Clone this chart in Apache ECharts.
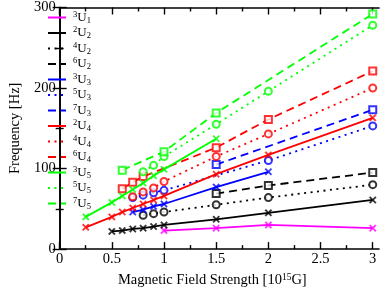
<!DOCTYPE html>
<html><head><meta charset="utf-8">
<script src="https://cdn.jsdelivr.net/npm/echarts@6/dist/echarts.min.js"></script>
<style>html,body{margin:0;padding:0;background:#fff}#c{width:382px;height:293px}</style>
</head><body><div id="c"></div>
<script>
// ---- data ----
const names = ['3U1','2U2','4U2','6U2','3U3','5U3','7U3','2U4','4U4','6U4','3U5','5U5','7U5'];
const supText = ['3','2','4','6','3','5','7','2','4','6','3','5','7'];
const subText = ['1','2','2','2','3','3','3','4','4','4','5','5','5'];

const x3U1 = [1, 1.5, 2, 3];
const y3U1 = [23, 26, 30, 26];
const x2U2 = [0.5, 0.6, 0.7, 0.8, 0.9, 1, 1.5, 2, 3];
const y2U2 = [22, 23, 25, 26, 28, 30, 37, 45, 61];
const x4U2 = [0.8, 0.9, 1, 1.5, 2, 3];
const y4U2 = [42, 44, 46, 55, 64, 80];
const x6U2 = [1.5, 2, 3];
const y6U2 = [69, 79, 95];
const x3U3 = [0.7, 0.8, 0.9, 1, 1.5, 2];
const y3U3 = [46, 49, 53, 56, 77, 96];
const x5U3 = [0.7, 0.8, 0.9, 1, 2, 3];
const y5U3 = [64, 67, 70, 73, 110, 153];
const x7U3 = [1.5, 3];
const y7U3 = [105, 173];
const x2U4 = [0.25, 0.5, 0.6, 0.7, 0.8, 0.9, 1, 1.5, 2, 3];
const y2U4 = [27, 40, 46, 51, 56, 61, 66, 93, 117, 163];
const x4U4 = [0.7, 0.8, 0.9, 1, 1.5, 2, 3];
const y4U4 = [65, 71, 76, 84, 115, 143, 200];
const x6U4 = [0.6, 0.7, 0.8, 1.5, 2, 3];
const y6U4 = [75, 83, 90, 126, 161, 221];
const x3U5 = [0.25, 0.5, 0.6, 0.7, 0.8, 0.9, 1, 1.5];
const y3U5 = [40, 58, 66, 74, 82, 91, 99, 137];
const x5U5 = [0.8, 0.9, 1, 1.5, 2, 3];
const y5U5 = [96, 104, 115, 155, 196, 278];
const x7U5 = [0.6, 1, 1.5, 3];
const y7U5 = [98, 121, 169, 292];

const xMajorTicks = [0, 0.5, 1, 1.5, 2, 2.5, 3];
const xMinorTicks = [0.25, 0.75, 1.25, 1.75, 2.25, 2.75];

// ---- styles ----
const xs = [x3U1,x2U2,x4U2,x6U2,x3U3,x5U3,x7U3,x2U4,x4U4,x6U4,x3U5,x5U5,x7U5];
const ys = [y3U1,y2U2,y4U2,y6U2,y3U3,y5U3,y7U3,y2U4,y4U4,y6U4,y3U5,y5U5,y7U5];
const colors = ['#ff00ff','#000000','#000000','#000000','#0000ff','#0000ff','#0000ff','#ff0000','#ff0000','#ff0000','#00ff00','#00ff00','#00ff00'];
const dotted = [2, 4.5], dashed = [8, 5];
const ltypes = ['solid','solid',dotted,dashed,'solid',dotted,dashed,'solid',dotted,dashed,'solid',dotted,dashed];
const crossPath = 'path://M0,1.5L1.5,0L5,3.5L8.5,0L10,1.5L6.5,5L10,8.5L8.5,10L5,6.5L1.5,10L0,8.5L3.5,5Z';
const marks = ['cross','cross','circle','square','cross','circle','square','cross','circle','square','cross','circle','square'];
const FONT = 'Liberation Serif';

const series = [];
names.forEach((n, i) => {
  const data = xs[i].map((x, j) => [x, ys[i][j]]);
  series.push({
    name: n, type: 'line', data, symbol: 'none',
    lineStyle: { color: colors[i], width: 1.8, type: ltypes[i] },
    itemStyle: { color: colors[i] },
    z: 2 + i * 2, silent: true
  });
  const m = marks[i];
  series.push({
    name: n + '_m', type: 'scatter', data,
    symbol: m === 'cross' ? crossPath : (m === 'circle' ? 'emptyCircle' : 'emptyRect'),
    symbolSize: 7,
    itemStyle: m === 'cross'
      ? { color: colors[i], borderColor: colors[i], borderWidth: 0.4 }
      : { color: colors[i], borderColor: colors[i], borderWidth: 1.6 },
    z: 3 + i * 2, silent: true
  });
});

const axLine = { show: true, lineStyle: { color: '#000', width: 1.6 } };
const tickLS = { color: '#000', width: 1.4 };
const xCommon = { type: 'value', min: 0, max: 3.06, splitLine: { show: false } };

const chart = echarts.init(document.getElementById('c'), null, { renderer: 'canvas' });
chart.setOption({
  animation: false,
  backgroundColor: '#fff',
  grid: { left: 43, right: 3, top: 5, bottom: 38, containLabel: false },
  legend: {
    orient: 'vertical', left: 47, top: 10, padding: 0,
    itemWidth: 18, itemHeight: 15, itemGap: 0.5,
    selectedMode: false,
    data: names,
    itemStyle: { color: 'rgba(0,0,0,0)', borderColor: 'rgba(0,0,0,0)', borderWidth: 0, opacity: 0 },
    formatter: n => { const i = names.indexOf(n); return '{sp|' + supText[i] + '}{u|U}{sb|' + subText[i] + '}'; },
    textStyle: {
      fontFamily: FONT, color: '#000',
      rich: {
        sp: { fontFamily: FONT, fontSize: 8.5, lineHeight: 8, verticalAlign: 'top', padding: [0, 0, 0, 2] },
        u: { fontFamily: FONT, fontSize: 13, lineHeight: 15 },
        sb: { fontFamily: FONT, fontSize: 8.5, lineHeight: 8, verticalAlign: 'bottom' }
      }
    }
  },
  xAxis: [
    Object.assign({}, xCommon, {
      position: 'bottom', axisLine: axLine,
      axisTick: { show: true, inside: true, length: 7, customValues: xMajorTicks, lineStyle: tickLS },
      axisLabel: { customValues: xMajorTicks, fontFamily: FONT, fontSize: 14.5, color: '#000', margin: 3 },
      name: '{a|Magnetic Field Strength [10}{s|15}{a|G]}',
      nameLocation: 'middle', nameGap: 20,
      nameTextStyle: { fontFamily: FONT, color: '#000', padding: [0, 14, 0, 0],
        rich: { a: { fontFamily: FONT, fontSize: 14.5, lineHeight: 17 },
                s: { fontFamily: FONT, fontSize: 9.5, lineHeight: 10, verticalAlign: 'top' } } }
    }),
    Object.assign({}, xCommon, {
      position: 'bottom', axisLine: { show: false },
      axisTick: { show: true, inside: true, length: 4, customValues: xMinorTicks, lineStyle: tickLS },
      axisLabel: { show: false }
    }),
    Object.assign({}, xCommon, {
      position: 'top', axisLine: axLine,
      axisTick: { show: true, inside: true, length: 7, customValues: xMajorTicks, lineStyle: tickLS },
      axisLabel: { show: false }
    }),
    Object.assign({}, xCommon, {
      position: 'top', axisLine: { show: false },
      axisTick: { show: true, inside: true, length: 4, customValues: xMinorTicks, lineStyle: tickLS },
      axisLabel: { show: false }
    })
  ],
  yAxis: [
    {
      type: 'value', min: 0, max: 300, interval: 100, position: 'left',
      axisLine: axLine, splitLine: { show: false },
      axisTick: { show: true, inside: true, length: 7, lineStyle: tickLS },
      minorTick: { show: true, splitNumber: 2, length: 4, lineStyle: tickLS },
      axisLabel: { fontFamily: FONT, fontSize: 14.5, color: '#000', margin: 4 },
      name: 'Frequency [Hz]', nameLocation: 'middle', nameGap: 31,
      nameTextStyle: { fontFamily: FONT, fontSize: 14.5, color: '#000' }
    },
    {
      type: 'value', min: 0, max: 300, interval: 100, position: 'right',
      axisLine: axLine, splitLine: { show: false },
      axisTick: { show: true, inside: true, length: 7, lineStyle: tickLS },
      minorTick: { show: true, splitNumber: 2, length: 4, lineStyle: tickLS },
      axisLabel: { show: false }
    }
  ],
  series
});
</script>
</body></html>
